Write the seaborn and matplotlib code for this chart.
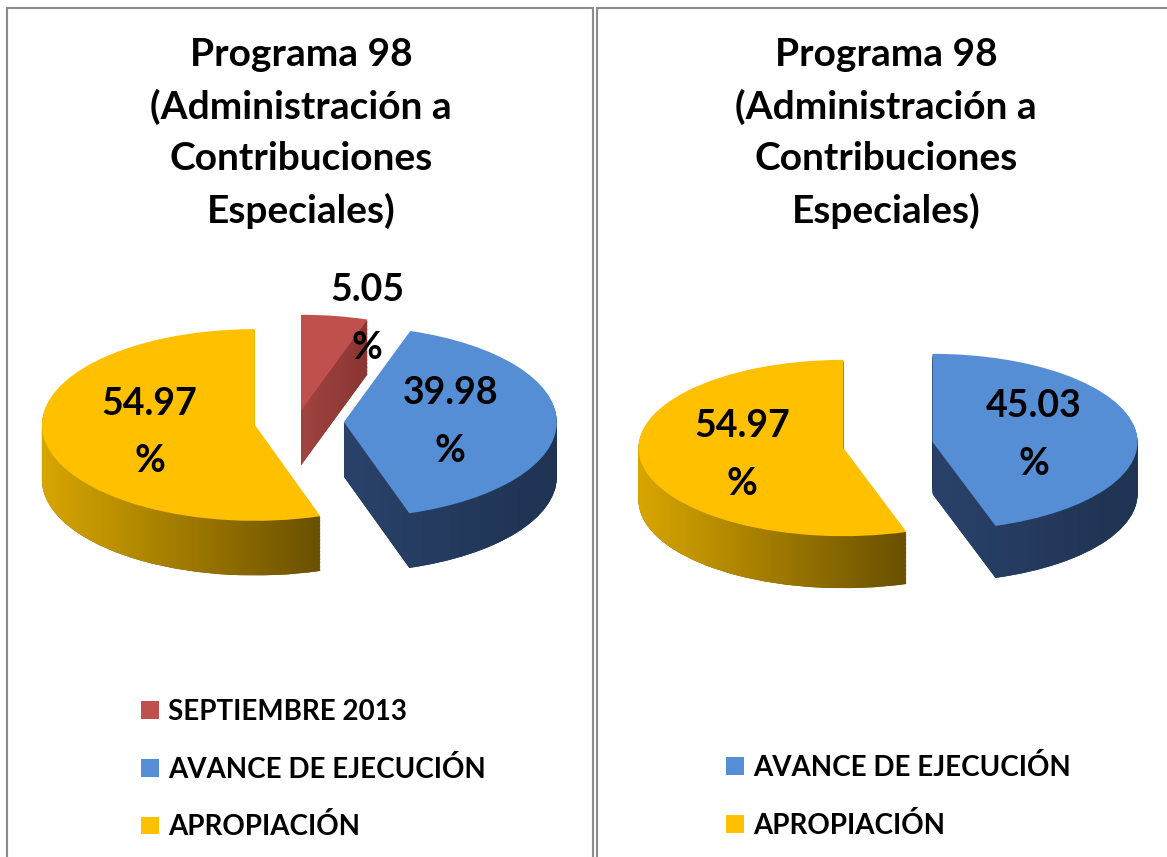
import numpy as np
import matplotlib
matplotlib.use("Agg")
import matplotlib.pyplot as plt
from matplotlib.colors import LinearSegmentedColormap
from matplotlib.patches import Rectangle
import seaborn as sns

# data
TITLE = "Programa 98\n(Administración a\nContribuciones\nEspeciales)"
LABELS_LEFT = ["SEPTIEMBRE 2013", "AVANCE DE EJECUCIÓN", "APROPIACIÓN"]
VALUES_LEFT = [5.05, 39.98, 54.97]
LABELS_RIGHT = ["AVANCE DE EJECUCIÓN", "APROPIACIÓN"]
VALUES_RIGHT = [45.03, 54.97]

COLORS = {"SEPTIEMBRE 2013": "#C0504D",
          "AVANCE DE EJECUCIÓN": "#558ED5",
          "APROPIACIÓN": "#FFC000"}
# side shading, light (left) -> dark (right)
SIDE = {"SEPTIEMBRE 2013": ("#A04440", "#8A3532"),
        "AVANCE DE EJECUCIÓN": ("#2A426A", "#1F3352"),
        "APROPIACIÓN": ("#D8A600", "#6A5000")}

sns.set_theme(style="white")
plt.rcParams["font.family"] = ["Lato", "DejaVu Sans"]
plt.rcParams["text.color"] = "black"

W, H = 1167, 857
fig = plt.figure(figsize=(W / 100, H / 100), dpi=100)
grad = np.linspace(0, 1, 256).reshape(1, -1)


def pie_axes(cx, cy, R, squash, lim=1.7):
    w = 2 * lim * R
    h = 2 * lim * R * squash
    return fig.add_axes([(cx - w / 2) / W, (H - cy - h / 2) / H, w / W, h / H]), lim


def draw_pie(ax, lim, values, labels, explode, depth, label_dist, label_shift):
    cols = [COLORS[l] for l in labels]
    sides = [SIDE[l][1] for l in labels]
    cmaps = [LinearSegmentedColormap.from_list(l, SIDE[l]) for l in labels]
    n = 40
    for k in range(n, 0, -1):
        layer, _ = ax.pie(values, colors=sides, explode=explode, startangle=90,
                          counterclock=False, center=(0, -depth * k / n),
                          wedgeprops=dict(linewidth=0))
        for w, cm in zip(layer, cmaps):
            bb = w.get_path().get_extents(w.get_patch_transform())
            im = ax.imshow(grad, cmap=cm, aspect="auto", zorder=1.5,
                           extent=[bb.x0, bb.x1, bb.y0, bb.y1])
            im.set_clip_path(w)
    wedges, _ = ax.pie(values, colors=cols, explode=explode, startangle=90,
                       counterclock=False, wedgeprops=dict(linewidth=0, zorder=3))
    # labels
    start = 90
    for v, e, d, s in zip(values, explode, label_dist, label_shift):
        mid = np.deg2rad(start - v * 3.6 / 2 + s)
        start -= v * 3.6
        r = e + d
        ax.text(r * np.cos(mid), r * np.sin(mid), f"{v:.2f}\n%",
                ha="center", va="center", fontsize=27, fontweight="bold",
                linespacing=1.85, color="black", zorder=5)
    ax.set_aspect("auto")
    ax.set_xlim(-lim, lim)
    ax.set_ylim(-lim, lim)
    ax.axis("off")
    return wedges


axl, lim = pie_axes(297, 422, 213, 0.45)
wl = draw_pie(axl, lim, VALUES_LEFT, LABELS_LEFT, [0.12, 0.22, 0.2], 0.57,
              [1.0, 0.5, 0.5], [-8, 0, 0])
axr, lim = pie_axes(888, 445, 205, 0.43)
wr = draw_pie(axr, lim, VALUES_RIGHT, LABELS_RIGHT, [0.22, 0.22], 0.59,
              [0.5, 0.5], [0, 0])

# titles
for x in (301, 886):
    fig.text(x / W, 1 - 37 / H, TITLE, ha="center", va="top", fontsize=28,
             fontweight="bold", linespacing=1.56, color="black")

# legends
for w, labs, x, y in ((wl, LABELS_LEFT, 141, 699), (wr, LABELS_RIGHT, 726, 754)):
    lg = fig.legend(w, labs, bbox_to_anchor=(x / W, 1 - y / H), loc="upper left",
                    frameon=False, fontsize=20, handlelength=0.65,
                    handleheight=0.6, handletextpad=0.33, labelspacing=1.1,
                    borderpad=0, borderaxespad=0)
    for t in lg.get_texts():
        t.set_fontweight("bold")
        t.set_color("black")

# panel borders
for x0, x1 in ((7, 593), (597, 1170)):
    fig.add_artist(Rectangle((x0 / W, -0.01), (x1 - x0) / W, 1 - 8 / H + 0.01,
                             transform=fig.transFigure, fill=False,
                             edgecolor="#8c8c8c", linewidth=1.5))

fig.savefig("out.png", dpi=100)
